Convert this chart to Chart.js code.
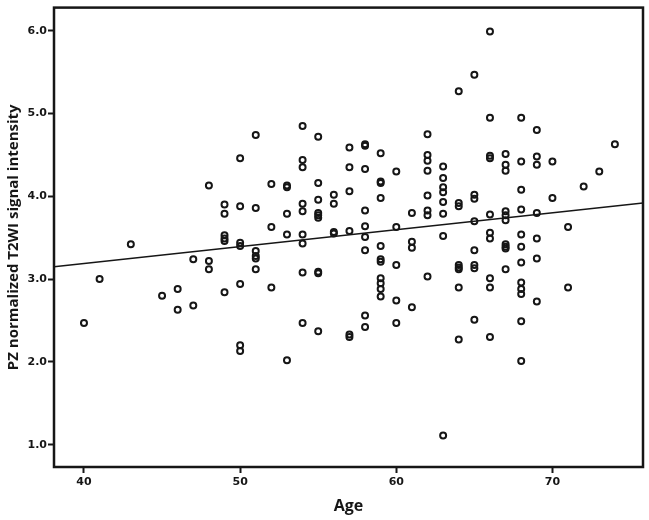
<!DOCTYPE html>
<html>
<head>
<meta charset="utf-8">
<script src="https://cdn.jsdelivr.net/npm/chart.js@4"></script>
<style>
  html, body { margin: 0; padding: 0; background: #fff; }
  #wrap { width: 649px; height: 520px; }
</style>
</head>
<body>
<div id="wrap"><canvas id="chart"></canvas></div>
<script>
// values, one per patient
const age = [
  40, 41, 43, 45,
  46, 46, 47, 47,
  48, 48, 48,
  49, 49, 49, 49, 49, 49,
  50, 50, 50, 50, 50, 50, 50,
  51, 51, 51, 51, 51, 51,
  52, 52, 52,
  53, 53, 53, 53, 53,
  54, 54, 54, 54, 54, 54, 54, 54, 54,
  55, 55, 55, 55, 55, 55, 55, 55, 55,
  56, 56, 56, 56,
  57, 57, 57, 57, 57, 57,
  58, 58, 58, 58, 58, 58, 58, 58, 58,
  59, 59, 59, 59, 59, 59, 59, 59, 59, 59, 59,
  60, 60, 60, 60, 60,
  61, 61, 61, 61,
  62, 62, 62, 62, 62, 62, 62, 62,
  63, 63, 63, 63, 63, 63, 63, 63,
  64, 64, 64, 64, 64, 64, 64, 64,
  65, 65, 65, 65, 65, 65, 65, 65,
  66, 66, 66, 66, 66, 66, 66, 66, 66, 66,
  67, 67, 67, 67, 67, 67, 67, 67, 67, 67,
  68, 68, 68, 68, 68, 68, 68, 68, 68, 68, 68, 68,
  69, 69, 69, 69, 69, 69, 69,
  70, 70, 71, 71, 72, 73, 74
]
const intensity = [
  2.47, 3.00, 3.42, 2.80,
  2.88, 2.63, 3.24, 2.68,
  4.13, 3.22, 3.12,
  3.90, 3.79, 3.53, 3.49, 3.46, 2.84,
  4.46, 3.88, 3.44, 3.40, 2.94, 2.20, 2.13,
  4.74, 3.86, 3.34, 3.28, 3.25, 3.12,
  4.15, 3.63, 2.90,
  4.13, 4.11, 3.79, 3.54, 2.02,
  4.85, 4.44, 4.35, 3.91, 3.82, 3.54, 3.43, 3.08, 2.47,
  4.72, 4.16, 3.96, 3.80, 3.77, 3.74, 3.09, 3.07, 2.37,
  4.02, 3.91, 3.57, 3.55,
  4.59, 4.35, 4.06, 3.58, 2.33, 2.30,
  4.63, 4.61, 4.33, 3.83, 3.64, 3.51, 3.35, 2.56, 2.42,
  4.52, 4.18, 4.16, 3.98, 3.40, 3.24, 3.21, 3.01, 2.95, 2.88, 2.79,
  4.30, 3.63, 3.17, 2.74, 2.47,
  3.80, 3.45, 3.38, 2.66,
  4.75, 4.50, 4.43, 4.31, 4.01, 3.83, 3.77, 3.03,
  4.36, 4.22, 4.11, 4.05, 3.93, 3.79, 3.52, 1.11,
  5.27, 3.92, 3.88, 3.17, 3.14, 3.12, 2.90, 2.27,
  5.47, 4.02, 3.97, 3.70, 3.35, 3.17, 3.13, 2.51,
  5.99, 4.95, 4.49, 4.46, 3.78, 3.56, 3.49, 3.01, 2.90, 2.30,
  4.51, 4.38, 4.31, 3.82, 3.77, 3.71, 3.42, 3.39, 3.37, 3.12,
  4.95, 4.42, 4.08, 3.84, 3.54, 3.39, 3.20, 2.96, 2.88, 2.82, 2.49, 2.01,
  4.80, 4.48, 4.38, 3.80, 3.49, 3.25, 2.73,
  4.42, 3.98, 3.63, 2.90, 4.12, 4.30, 4.63
]

// fitted line, read at the plot edges
const fitAge = [38.08, 75.8]
const fitIntensity = [3.15, 3.92]

const xTicks = [40, 50, 60, 70]
const yTicks = [1, 2, 3, 4, 5, 6]

const ink = '#161616'

const framePlugin = {
  id: 'frame',
  afterDatasetsDraw(chart) {
    const { ctx, chartArea } = chart
    ctx.save()
    ctx.strokeStyle = ink
    ctx.lineWidth = 2.5
    ctx.strokeRect(chartArea.left, chartArea.top, chartArea.right - chartArea.left, chartArea.bottom - chartArea.top)
    ctx.restore()
  }
}

new Chart(document.getElementById('chart'), {
  type: 'scatter',
  data: {
    datasets: [
      {
        label: 'Fit',
        type: 'line',
        data: fitAge.map((a, i) => ({ x: a, y: fitIntensity[i] })),
        borderColor: ink,
        borderWidth: 1.6,
        pointRadius: 0,
        fill: false
      },
      {
        label: 'PZ normalized T2WI signal intensity',
        data: age.map((a, i) => ({ x: a, y: intensity[i] })),
        pointStyle: 'circle',
        pointRadius: 3,
        pointBorderWidth: 2,
        pointBorderColor: ink,
        pointBackgroundColor: 'rgba(0,0,0,0)'
      }
    ]
  },
  options: {
    responsive: true,
    maintainAspectRatio: false,
    animation: false,
    layout: { padding: { top: 3, right: 5, left: 0, bottom: 0 } },
    plugins: {
      legend: { display: false },
      tooltip: { enabled: false }
    },
    scales: {
      x: {
        type: 'linear',
        min: 38.08,
        max: 75.8,
        afterBuildTicks(scale) { scale.ticks = xTicks.map(v => ({ value: v })) },
        afterFit(scale) { scale.height = 53 },
        grid: { drawOnChartArea: false, drawTicks: true, tickLength: 6, tickWidth: 2, tickColor: ink },
        border: { display: false },
        ticks: {
          color: ink,
          padding: 3,
          maxRotation: 0,
          font: { family: 'DejaVu Sans', size: 11, weight: 'bold' }
        },
        title: {
          display: true,
          text: 'Age',
          color: ink,
          padding: { top: 0, bottom: 4 },
          font: { family: 'Open Sans', size: 16, weight: 'bold' }
        }
      },
      y: {
        type: 'linear',
        min: 0.73,
        max: 6.28,
        afterBuildTicks(scale) { scale.ticks = yTicks.map(v => ({ value: v })) },
        afterFit(scale) { scale.width = 54 },
        grid: { drawOnChartArea: false, drawTicks: true, tickLength: 6, tickWidth: 2, tickColor: ink },
        border: { display: false },
        ticks: {
          color: ink,
          padding: 1,
          font: { family: 'DejaVu Sans', size: 11, weight: 'bold' },
          callback: v => v.toFixed(1)
        },
        title: {
          display: true,
          text: 'PZ normalized T2WI signal intensity',
          color: ink,
          padding: { top: 5, bottom: 0 },
          font: { family: 'Open Sans', size: 15, weight: 'bold' }
        }
      }
    }
  },
  plugins: [framePlugin]
})
</script>
</body>
</html>
